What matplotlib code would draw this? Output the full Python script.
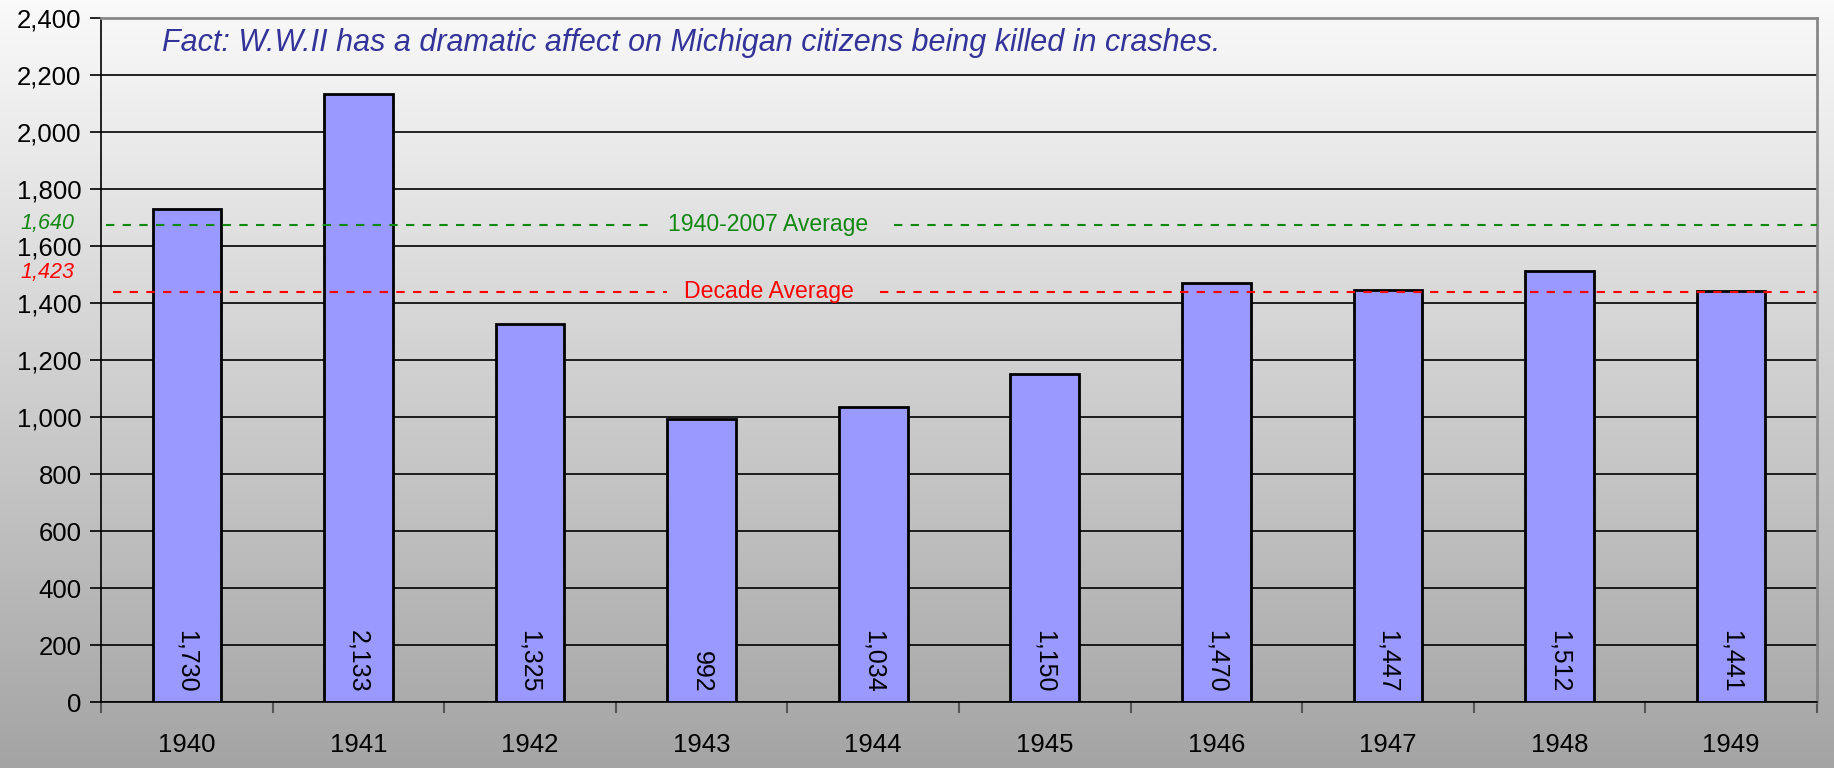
import numpy as np
import matplotlib
matplotlib.use("Agg")
import matplotlib.pyplot as plt
from matplotlib.colors import LinearSegmentedColormap

years = ['1940', '1941', '1942', '1943', '1944', '1945', '1946', '1947', '1948', '1949']
deaths = [1730, 2133, 1325, 992, 1034, 1150, 1470, 1447, 1512, 1441]
long_avg_label = '1,640'
decade_avg_label = '1,423'
long_avg_y = 1675   # where the line is drawn in the picture
decade_avg_y = 1440
yticks = list(range(0, 2401, 200))
title = 'Fact: W.W.II has a dramatic affect on Michigan citizens being killed in crashes.'

plt.rcParams['font.family'] = ['Liberation Sans', 'DejaVu Sans']

fig = plt.figure(figsize=(18.34, 7.68), dpi=100)

# grey gradient background over the whole figure
bg = fig.add_axes([0, 0, 1, 1], zorder=-10)
grad = np.linspace(0, 1, 256).reshape(-1, 1)
cmap = LinearSegmentedColormap.from_list('g', ['#fafafa', '#a4a4a4'])
bg.imshow(grad, aspect='auto', cmap=cmap, extent=[0, 1, 0, 1])
bg.axis('off')

ax = fig.add_axes([0.0551, 0.0859, 0.9356, 0.8907])
ax.patch.set_alpha(0)

x = np.arange(len(years))
ax.bar(x, deaths, width=0.4, color='#9999ff', edgecolor='black', linewidth=2, zorder=3)

ax.set_xlim(-0.5, len(years) - 0.5)
ax.set_ylim(0, 2400)
ax.set_yticks(yticks)
ax.set_yticklabels([f'{v:,}' for v in yticks], fontsize=18.5)
ax.yaxis.grid(True, color='black', linewidth=1.2, zorder=0)
ax.set_axisbelow(True)

ax.set_xticks(np.arange(-0.5, len(years), 1.0))
ax.set_xticklabels([])
ax.set_xticks(x, minor=True)
ax.set_xticklabels(years, minor=True, fontsize=18.5)
ax.tick_params(axis='x', which='minor', length=0, pad=22)
ax.tick_params(axis='x', which='major', length=8, width=1.5, color='#555555')
ax.tick_params(axis='y', length=8, width=1.2, pad=6)

for s in ['top', 'right']:
    ax.spines[s].set_color('#888888')
    ax.spines[s].set_linewidth(2)
for s in ['left', 'bottom']:
    ax.spines[s].set_color('black')
    ax.spines[s].set_linewidth(1.2)

# value labels inside bars
for xi, v in zip(x, deaths):
    ax.annotate(f'{v:,}', (xi, 0), xytext=(0, 7), textcoords='offset points',
                rotation=270, ha='center', va='bottom', fontsize=18, zorder=5)

# average lines, with gap for the text
ax.hlines([long_avg_y, long_avg_y], [-0.47, 4.12], [2.73, 9.5], colors='#118811',
          linestyles=(0, (4, 4)), linewidth=1.5, zorder=4)
ax.hlines([decade_avg_y, decade_avg_y], [-0.43, 4.04], [2.80, 9.5], colors='#ff0000',
          linestyles=(0, (4, 4)), linewidth=1.5, zorder=4)
ax.text(3.39, long_avg_y, '1940-2007 Average', color='#118811', fontsize=16.6,
        ha='center', va='center', zorder=5)
ax.text(3.39, decade_avg_y, 'Decade Average', color='#ff0000', fontsize=16.6,
        ha='center', va='center', zorder=5)

fig.text(20 / 1834, 1 - 223 / 768, long_avg_label, color='#118811', fontsize=15.5,
         style='italic', ha='left', va='center')
fig.text(20 / 1834, 1 - 272 / 768, decade_avg_label, color='#ff0000', fontsize=15.5,
         style='italic', ha='left', va='center')

fig.text(162 / 1834, 1 - 43 / 768, title, color='#333399', fontsize=22,
         style='italic', ha='left', va='center')

fig.savefig('out.png', dpi=100)
